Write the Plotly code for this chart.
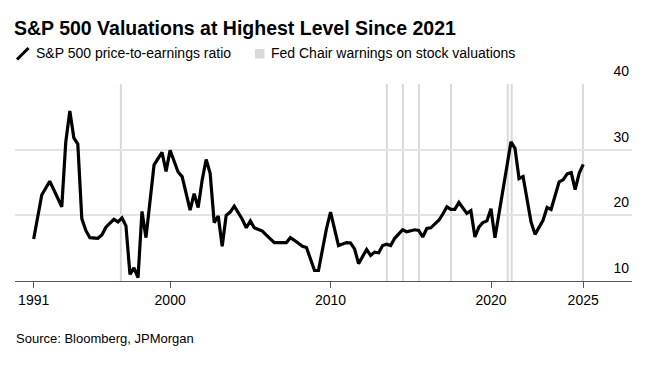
import plotly.graph_objects as go

# ---- data ----
dates = [
    "1991-06-30", "1991-12-31", "1992-06-30", "1993-03-31", "1993-06-30", "1993-09-30",
    "1993-12-31", "1994-03-31", "1994-06-30", "1994-09-30", "1994-12-31", "1995-06-30",
    "1995-09-30", "1995-12-31", "1996-06-30", "1996-09-30", "1996-12-31", "1997-03-31",
    "1997-06-30", "1997-09-30", "1997-12-31", "1998-03-31", "1998-06-30", "1998-12-31",
    "1999-06-30", "1999-09-30", "1999-12-31", "2000-03-31", "2000-06-30", "2000-09-30",
    "2001-03-31", "2001-06-30", "2001-09-30", "2001-12-31", "2002-03-31", "2002-06-30",
    "2002-09-30", "2002-12-31", "2003-03-31", "2003-06-30", "2003-09-30", "2003-12-31",
    "2004-06-30", "2004-09-30", "2004-12-31", "2005-03-31", "2005-09-30", "2005-12-31",
    "2006-06-30", "2007-03-31", "2007-06-30", "2007-09-30", "2008-03-31", "2008-06-30",
    "2008-12-31", "2009-03-31", "2009-09-30", "2009-12-31", "2010-06-30", "2010-12-31",
    "2011-03-31", "2011-06-30", "2011-09-30", "2012-03-31", "2012-06-30", "2012-09-30",
    "2012-12-31", "2013-03-31", "2013-06-30", "2013-09-30", "2013-12-31", "2014-06-30",
    "2014-09-30", "2015-03-31", "2015-06-30", "2015-09-30", "2015-12-31", "2016-03-31",
    "2016-09-30", "2016-12-31", "2017-03-31", "2017-06-30", "2017-09-30", "2017-12-31",
    "2018-03-31", "2018-06-30", "2018-09-30", "2018-12-31", "2019-03-31", "2019-06-30",
    "2019-09-30", "2019-12-31", "2020-03-31", "2020-09-30", "2021-03-31", "2021-06-30",
    "2021-09-30", "2021-12-31", "2022-06-30", "2022-09-30", "2023-03-31", "2023-06-30",
    "2023-09-30", "2024-03-31", "2024-06-30", "2024-09-30", "2024-12-31", "2025-03-31",
    "2025-06-30", "2025-09-30",
]
pe_ratio = [
    16.4, 23.1, 25.2, 21.3, 31.2, 35.9,
    31.8, 30.85, 19.5, 17.7, 16.6, 16.5,
    17.0, 18.2, 19.4, 19.0, 19.6, 18.4,
    11.0, 12.0, 10.5, 20.6, 16.6, 27.7,
    29.6, 26.7, 29.9, 28.4, 26.6, 25.9,
    20.8, 23.3, 21.2, 25.4, 28.5, 26.4,
    18.9, 19.9, 15.3, 20.0, 20.5, 21.4,
    19.4, 18.1, 19.15, 18.1, 17.6, 17.0,
    15.85, 15.85, 16.6, 16.2, 15.3, 15.1,
    11.6, 11.6, 18.0, 20.5, 15.4, 15.85,
    15.8, 14.9, 12.65, 14.8, 13.9, 14.4,
    14.3, 15.4, 15.6, 15.4, 16.5, 17.8,
    17.5, 17.8, 17.7, 16.7, 18.0, 18.1,
    19.25, 20.2, 21.3, 20.9, 20.9, 21.95,
    21.2, 20.3, 20.7, 16.7, 18.2, 18.9,
    19.15, 21.0, 16.6, 24.3, 31.2, 30.2,
    25.6, 25.9, 19.0, 17.1, 19.25, 21.2,
    20.9, 25.1, 25.4, 26.3, 26.5, 23.9,
    26.4, 27.75,
]
fed_warning_dates = [
    "1996-12-05", "2013-07-05", "2014-07-05", "2015-07-05",
    "2017-07-05", "2021-01-15", "2021-04-15", "2025-09-23",
]
x_tick_vals = ["1991-06-30", "2000-01-01", "2010-01-01", "2020-01-01", "2025-09-30"]
x_tick_text = ["1991", "2000", "2010", "2020", "2025"]
y_tick_vals = [10, 20, 30, 40]

title_text = "S&P 500 Valuations at Highest Level Since 2021"
legend_line_text = "S&P 500 price-to-earnings ratio"
legend_band_text = "Fed Chair warnings on stock valuations"
source_text = "Source: Bloomberg, JPMorgan"

# ---- layout geometry ----
W, H = 650, 365
ML, MR, MT, MB = 15, 18, 84, 84
PW, PH = W - ML - MR, H - MT - MB
FONT = "Liberation Sans, Arial, sans-serif"


def px(x):
    return (x - ML) / PW


def py(y):
    return (H - MB - y) / PH


fig = go.Figure()

fig.add_trace(go.Scatter(
    x=dates, y=pe_ratio, mode="lines",
    line=dict(color="#000000", width=3.2),
    showlegend=False, hoverinfo="x+y",
))

shapes = []
for d in fed_warning_dates:
    shapes.append(dict(type="line", xref="x", yref="y", x0=d, x1=d, y0=10, y1=40,
                       line=dict(color="#d9d9d9", width=2), layer="below"))

# legend icons
shapes.append(dict(type="line", xref="paper", yref="paper",
                   x0=px(17), x1=px(28.5), y0=py(59.5), y1=py(48),
                   line=dict(color="#000000", width=3)))
shapes.append(dict(type="rect", xref="paper", yref="paper",
                   x0=px(255), x1=px(264.5), y0=py(58.5), y1=py(49),
                   line=dict(width=0), fillcolor="#d9d9d9"))

annotations = [
    dict(text=legend_line_text, xref="paper", yref="paper", x=px(34), y=py(53.5),
         xanchor="left", yanchor="middle", showarrow=False,
         font=dict(family=FONT, size=14, color="#000000")),
    dict(text=legend_band_text, xref="paper", yref="paper", x=px(269), y=py(53.5),
         xanchor="left", yanchor="middle", showarrow=False,
         font=dict(family=FONT, size=14, color="#000000")),
    dict(text=source_text, xref="paper", yref="paper", x=px(14), y=py(338),
         xanchor="left", yanchor="middle", showarrow=False,
         font=dict(family=FONT, size=13, color="#000000")),
]

fig.update_layout(
    width=W, height=H,
    margin=dict(l=ML, r=MR, t=MT, b=MB, pad=0, autoexpand=False),
    paper_bgcolor="#ffffff", plot_bgcolor="#ffffff",
    title=dict(text="<b>" + title_text + "</b>", xref="container", yref="container",
               x=14 / W, y=1 - 28 / H, xanchor="left", yanchor="middle",
               font=dict(family=FONT, size=19.5, color="#000000")),
    shapes=shapes, annotations=annotations,
    showlegend=False,
    xaxis=dict(type="date", range=["1990-05-01", "2028-10-15"], automargin=False,
               tickvals=x_tick_vals, ticktext=x_tick_text,
               ticks="outside", ticklen=6, tickcolor="#555555", tickwidth=1,
               showgrid=False, zeroline=False,
               showline=True, linecolor="#555555", linewidth=1,
               tickfont=dict(family=FONT, size=14, color="#000000")),
    yaxis=dict(range=[10, 40], side="right", tickvals=y_tick_vals, automargin=False,
               ticklabelposition="inside top", ticklabeloverflow="allow",
               ticklabelshift=-3, ticks="",
               showgrid=True, gridcolor="#e3e3e3", gridwidth=1.5,
               zeroline=False, showline=False,
               tickfont=dict(family=FONT, size=14, color="#000000")),
)

fig.write_html("out.html", config={"displayModeBar": False},
               post_script="document.body.style.margin='0';document.body.style.padding='0';")
